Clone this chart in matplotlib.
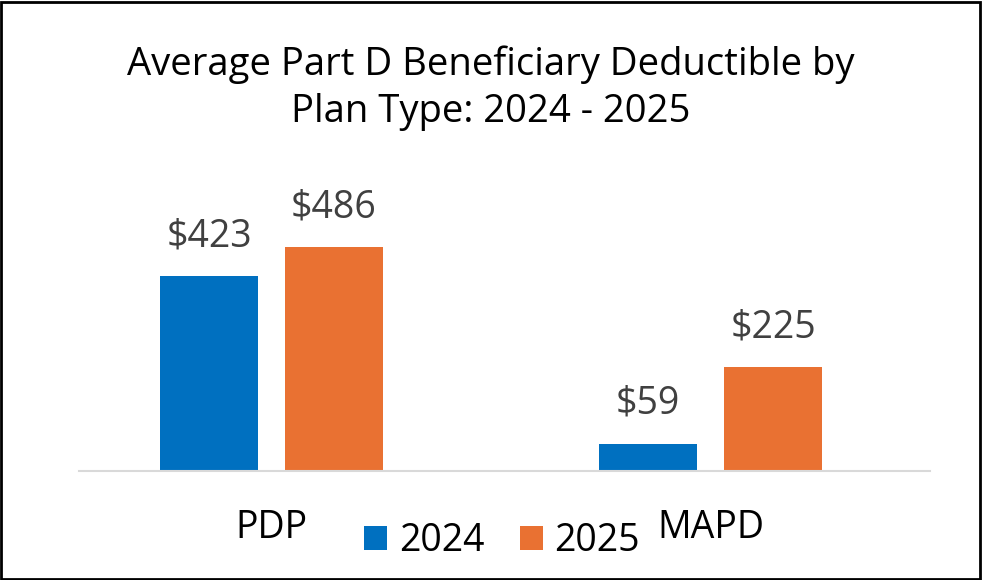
import numpy as np
import matplotlib.pyplot as plt
from matplotlib.patches import Rectangle

plt.rcParams['font.family'] = ['Open Sans', 'DejaVu Sans']

# data
plans = ['PDP', 'MAPD']
years = ['2024', '2025']
ded_2024 = [423, 59]
ded_2025 = [486, 225]
colors = ['#0070C0', '#E97132']

W, H = 982, 580
fig = plt.figure(figsize=(W / 100, H / 100), dpi=100)

# axes placed in pixel terms
ax_left, ax_right, ax_base, ax_top = 79, 930, 471, 160
ax = fig.add_axes([ax_left / W, (H - ax_base) / H,
                   (ax_right - ax_left) / W, (ax_base - ax_top) / H])

x = np.arange(len(plans))
width = 0.223
off = 0.1424
b1 = ax.bar(x - off, ded_2024, width, color=colors[0], label=years[0])
b2 = ax.bar(x + off, ded_2025, width, color=colors[1], label=years[1])

for bars in (b1, b2):
    for r in bars:
        ax.annotate('$%d' % r.get_height(),
                    (r.get_x() + r.get_width() / 2, r.get_height()),
                    xytext=(0, 15), textcoords='offset points',
                    ha='center', va='bottom', fontsize=27, color='#404040')

ax.set_xlim(-0.4385, 1.5)
ax.set_ylim(0, (ax_base - ax_top) / 0.461)
ax.set_yticks([])
ax.set_xticks(x)
ax.set_xticklabels(plans, fontsize=27, color='black')
ax.tick_params(axis='x', length=0, pad=27)
for s in ['top', 'right', 'left']:
    ax.spines[s].set_visible(False)
ax.spines['bottom'].set_color('#D9D9D9')
ax.spines['bottom'].set_linewidth(1.5)

fig.text(0.5, 1 - 88 / H, 'Average Part D Beneficiary Deductible by\nPlan Type: 2024 - 2025',
         ha='center', va='center', fontsize=27.5, color='black', linespacing=1.3)

fig.legend(handles=[b1, b2], labels=years, loc='center',
           bbox_to_anchor=(502 / W, 1 - 541 / H), ncol=2, frameon=False,
           fontsize=27, handlelength=0.62, handleheight=0.62,
           handletextpad=0.3, columnspacing=0.95)

# border
fig.patches.append(Rectangle((0.001, 0.002), 0.997, 0.995, transform=fig.transFigure,
                             fill=False, edgecolor='black', linewidth=2))

fig.savefig('out.png', dpi=100)
